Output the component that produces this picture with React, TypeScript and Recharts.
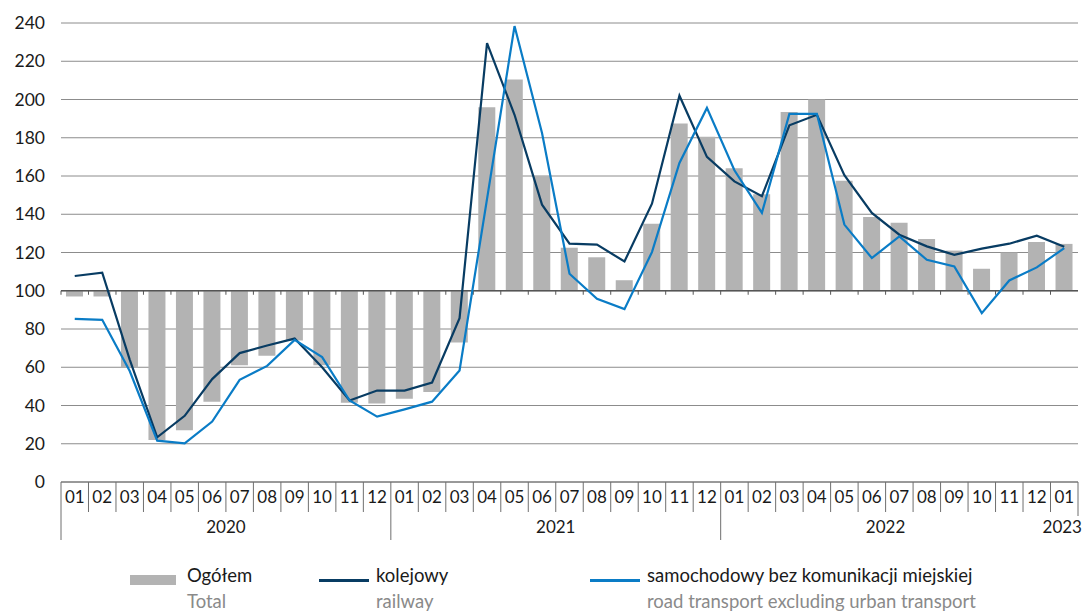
import { ComposedChart, Bar, Line, XAxis, YAxis, CartesianGrid, ReferenceLine } from "recharts";

const months = [
  "01", "02", "03", "04", "05", "06", "07", "08", "09", "10", "11", "12",
  "01", "02", "03", "04", "05", "06", "07", "08", "09", "10", "11", "12",
  "01", "02", "03", "04", "05", "06", "07", "08", "09", "10", "11", "12",
  "01",
];
const years = [
  "2020", "2020", "2020", "2020", "2020", "2020", "2020", "2020", "2020", "2020", "2020", "2020",
  "2021", "2021", "2021", "2021", "2021", "2021", "2021", "2021", "2021", "2021", "2021", "2021",
  "2022", "2022", "2022", "2022", "2022", "2022", "2022", "2022", "2022", "2022", "2022", "2022",
  "2023",
];
// Ogółem / Total
const total = [
  97, 97, 60, 22, 27, 42, 61, 66, 74, 61, 41.5, 41,
  43.5, 47, 73, 196, 210.5, 160, 122.5, 117.5, 105.5, 135, 187.5, 180.5,
  164, 150.5, 193.5, 200, 157.5, 138.5, 135.5, 127, 121, 111.5, 120, 125.5,
  124.5,
];
// kolejowy / railway
const railway = [
  107.7, 109.4, 64, 23.4, 34.6, 53.8, 67.4, 71.4, 75, 60, 42.6, 47.8,
  47.8, 52, 85.7, 229.5, 192, 145, 124.6, 124.1, 115.3, 145.5, 202, 170,
  157.2, 149.4, 186.5, 192, 160.4, 140.7, 129.3, 123.2, 118.8, 122, 124.6, 128.8,
  123,
];
// samochodowy bez komunikacji miejskiej / road transport excluding urban transport
const road = [
  85.3, 84.8, 58, 21.6, 20.2, 31.6, 53.4, 60.7, 74.3, 65.3, 42.6, 34.2,
  38, 42, 58.3, 148, 238.4, 182.5, 108.9, 95.8, 90.4, 120.2, 166.8, 195.6,
  163, 140.7, 192.5, 192.5, 134.6, 117.1, 128.4, 116.2, 112.7, 88.3, 105.4, 112.2,
  122.3,
];
const yTicks = [0, 20, 40, 60, 80, 100, 120, 140, 160, 180, 200, 220, 240];

const data = months.map((m, i) => ({
  key: `${years[i]}-${m}`,
  month: m,
  year: years[i],
  total: [100, total[i]],
  railway: railway[i],
  road: road[i],
}));

const W = 1084;
const H = 615;
const Y_AXIS_W = 61;
const MARGIN = { top: 23, right: 6, bottom: 73, left: 0 };
const BAND = (W - Y_AXIS_W - MARGIN.left - MARGIN.right) / data.length;
const FONT = "Lato, 'Open Sans', sans-serif";
const AXIS_COLOR = "#6f6f6f";

function MonthTick(props: any) {
  const { x, y, index } = props;
  const d = data[index];
  if (!d) return null;
  const left = x - BAND / 2;
  const right = x + BAND / 2;
  const yearIdx = data.map((r, i) => (r.year === d.year ? i : -1)).filter((i) => i >= 0);
  const first = yearIdx[0];
  const last = yearIdx[yearIdx.length - 1];
  const mid = (first + last) / 2;
  const showYear = index === Math.floor(mid);
  const yearX = x + (mid - Math.floor(mid)) * BAND;
  const isYearStart = d.month === "01" && d.year !== "2023";
  const isLast = index === data.length - 1;
  return (
    <g>
      <line x1={left} x2={left} y1={y} y2={y + (isYearStart ? 58 : 30)} stroke={AXIS_COLOR} strokeWidth={1} />
      {isLast && <line x1={right} x2={right} y1={y} y2={y + 34} stroke={AXIS_COLOR} strokeWidth={1} />}
      <text x={x} y={y + 21} textAnchor="middle" fontSize={17} fontFamily={FONT} fill="#1a1a1a">
        {d.month}
      </text>
      {showYear && (
        <text x={isLast ? x - 2 : yearX} y={y + 51} textAnchor="middle" fontSize={17} fontFamily={FONT} fill="#1a1a1a">
          {d.year}
        </text>
      )}
    </g>
  );
}

function BaseLine(props: any) {
  const { x1, x2, y1 } = props;
  if (x1 == null || x2 == null || y1 == null) return null;
  const step = (x2 - x1) / data.length;
  return (
    <g>
      <line x1={x1} x2={x2} y1={y1} y2={y1} stroke="#555" strokeWidth={1.3} />
      {data.map((_, i) => (
        <line key={i} x1={x1 + i * step} x2={x1 + i * step} y1={y1} y2={y1 + 4} stroke="#555" strokeWidth={1} />
      ))}
    </g>
  );
}

function LegendItem({ x, swatch, pl, en }: { x: number; swatch: any; pl: string; en: string }) {
  return (
    <div style={{ position: "absolute", left: x, top: 563, fontFamily: FONT, fontSize: 18.5 }}>
      <div style={{ position: "absolute", left: 0, top: 16 }}>{swatch}</div>
      <div style={{ position: "absolute", left: 57, top: 1, whiteSpace: "nowrap", color: "#1a1a1a" }}>{pl}</div>
      <div style={{ position: "absolute", left: 57, top: 27, whiteSpace: "nowrap", color: "#8a8a8a" }}>{en}</div>
    </div>
  );
}

export default function App() {
  return (
    <div style={{ position: "absolute", left: 0, top: 0, width: W, height: H, background: "#fff" }}>
      <ComposedChart width={W} height={H} data={data} margin={MARGIN}>
        <CartesianGrid vertical={false} stroke="#8c8c8c" strokeWidth={1} />
        <XAxis
          dataKey="key"
          interval={0}
          height={60}
          tickLine={false}
          tickSize={0}
          tickMargin={0}
          axisLine={{ stroke: AXIS_COLOR }}
          tick={<MonthTick />}
        />
        <YAxis
          domain={[0, 240]}
          ticks={yTicks}
          width={Y_AXIS_W}
          axisLine={false}
          tickLine={false}
          tickMargin={10}
          tick={{ fill: "#1a1a1a", fontSize: 17.5, fontFamily: FONT }}
        />
        <Bar dataKey="total" fill="#b3b3b3" barSize={17} isAnimationActive={false} />
        <ReferenceLine y={100} shape={<BaseLine />} />
        <Line type="linear" dataKey="railway" stroke="#083c63" strokeWidth={2.2} dot={false} isAnimationActive={false} />
        <Line type="linear" dataKey="road" stroke="#0a7cc6" strokeWidth={2.2} dot={false} isAnimationActive={false} />
      </ComposedChart>
      <LegendItem x={130} swatch={<div style={{ width: 46, height: 10, marginTop: -4, background: "#b3b3b3" }} />} pl="Ogółem" en="Total" />
      <LegendItem x={319} swatch={<div style={{ width: 50, height: 3, background: "#083c63" }} />} pl="kolejowy" en="railway" />
      <LegendItem x={590} swatch={<div style={{ width: 50, height: 3, background: "#0a7cc6" }} />} pl="samochodowy bez komunikacji miejskiej" en="road transport excluding urban transport" />
    </div>
  );
}
